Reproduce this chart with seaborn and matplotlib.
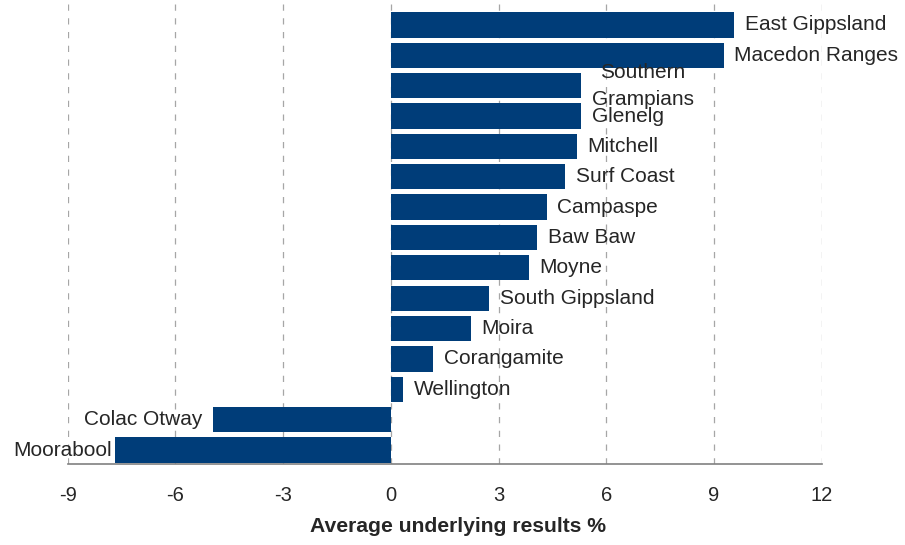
import matplotlib
matplotlib.use("Agg")
import matplotlib.pyplot as plt
import seaborn as sns
import pandas as pd

councils = [
    "East Gippsland", "Macedon Ranges", "Southern\nGrampians", "Glenelg",
    "Mitchell", "Surf Coast", "Campaspe", "Baw Baw", "Moyne",
    "South Gippsland", "Moira", "Corangamite", "Wellington",
    "Colac Otway", "Moorabool",
]
results = [
    9.56, 9.28, 5.30, 5.30, 5.19, 4.86, 4.35, 4.08, 3.85,
    2.74, 2.24, 1.18, 0.34, -4.95, -7.68,
]
x_ticks = [-9, -6, -3, 0, 3, 6, 9, 12]

BAR = "#003d79"
TEXT = "#262626"

sns.set_theme(style="white")
plt.rcParams["font.family"] = ["Liberation Sans", "DejaVu Sans"]

df = pd.DataFrame({"council": councils, "result": results})

fig = plt.figure(figsize=(9.05, 5.45), dpi=100)
ax = fig.add_axes([67.7 / 905, 81 / 545, (821.7 - 67.7) / 905, 464 / 545])

sns.barplot(data=df, x="result", y="council", orient="h", color=BAR,
            saturation=1, width=0.83, linewidth=0, ax=ax, zorder=3)

ax.set_xlim(-9, 12)
ax.set_ylim(14.46, -0.82)
ax.set_xticks(x_ticks)
ax.set_xticklabels([str(t) for t in x_ticks], fontsize=14.5, color=TEXT)
ax.tick_params(axis="x", length=0, pad=16)
ax.set_yticks([])
ax.set_ylabel("")
ax.set_xlabel("Average underlying results %", fontsize=15.2, fontweight="bold",
              color=TEXT, labelpad=12)
ax.xaxis.set_label_coords(0.517, -0.115)

for t in x_ticks:
    ax.axvline(t, color="#a6a6a6", lw=0.9, ls=(0, (5, 6)), zorder=1)

for side in ("left", "right", "top"):
    ax.spines[side].set_visible(False)
ax.spines["bottom"].set_color("#808080")
ax.spines["bottom"].set_linewidth(1.2)
ax.spines["bottom"].set_zorder(4)

labels = []
for i, (name, val) in enumerate(zip(councils, results)):
    pos = val >= 0
    txt = ax.annotate(name, xy=(val, i), xytext=(7.5 if pos else -7.5, 0),
                      textcoords="offset points", ha="left" if pos else "right",
                      va="center", multialignment="center", fontsize=15,
                      linespacing=1.55, color=TEXT, annotation_clip=False,
                      zorder=5)
    labels.append(txt)

# keep labels inside the figure's left margin
fig.canvas.draw()
renderer = fig.canvas.get_renderer()
for txt in labels:
    bb = txt.get_window_extent(renderer)
    if bb.x0 < 13:
        dx = (13 - bb.x0) * 72 / fig.dpi
        ox, oy = txt.xyann
        txt.xyann = (ox + dx, oy)

fig.savefig("out.png", dpi=100)
